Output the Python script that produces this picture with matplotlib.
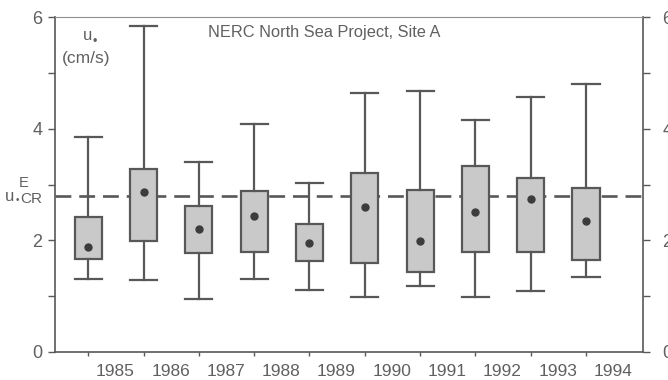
import matplotlib
matplotlib.use('Agg')
import matplotlib.pyplot as plt
import matplotlib.transforms as mtransforms

plt.rcParams['font.family'] = ['Liberation Sans', 'DejaVu Sans']

# u* statistics per year (cm/s)
years = ['1985', '1986', '1987', '1988', '1989', '1990', '1991', '1992', '1993', '1994']
whisker_low = [1.31, 1.29, 0.95, 1.31, 1.11, 0.99, 1.19, 0.99, 1.09, 1.34]
box_low = [1.66, 1.99, 1.77, 1.79, 1.63, 1.59, 1.43, 1.79, 1.79, 1.64]
box_high = [2.42, 3.27, 2.62, 2.89, 2.29, 3.21, 2.91, 3.34, 3.12, 2.94]
whisker_high = [3.85, 5.83, 3.40, 4.08, 3.03, 4.64, 4.68, 4.16, 4.57, 4.80]
means = [1.88, 2.87, 2.20, 2.44, 1.96, 2.59, 1.99, 2.50, 2.74, 2.35]
u_cr = 2.80

line_c = '#585858'
text_c = '#606060'

fig = plt.figure(figsize=(6.68, 3.8), dpi=100)
ax = fig.add_axes([55 / 668, 28 / 380, 588 / 668, 335 / 380])

stats = []
for i in range(len(years)):
    stats.append({'whislo': whisker_low[i], 'q1': box_low[i], 'med': means[i],
                  'q3': box_high[i], 'whishi': whisker_high[i], 'mean': means[i]})

pos = list(range(len(years)))
ax.bxp(stats, positions=pos, widths=0.49, capwidths=0.49, patch_artist=True,
       showmeans=True, showfliers=False,
       boxprops=dict(facecolor='#c9c9c9', edgecolor=line_c, linewidth=1.6),
       whiskerprops=dict(color=line_c, linewidth=1.6),
       capprops=dict(color=line_c, linewidth=1.6),
       medianprops=dict(linewidth=0),
       meanprops=dict(marker='o', markersize=5, markerfacecolor='#3c3c3c',
                      markeredgecolor='#3c3c3c'))

ax.axhline(u_cr, color=line_c, linewidth=1.9, dashes=(6, 3), zorder=1)

ax.set_xlim(-0.6, 10.03)
ax.set_ylim(0, 6)
ax.set_yticks([0, 2, 4, 6])
ax.set_yticks([1, 3, 5], minor=True)
ax.set_xticks(pos)
ax.set_xticklabels(years)
ax.tick_params(axis='y', which='both', direction='out', length=5, width=1,
               color=line_c, labelsize=13, labelcolor=text_c, pad=4)
ax.tick_params(axis='x', direction='out', length=3, width=1, color=line_c,
               labelsize=12.5, labelcolor=text_c, pad=6)

# year labels sit to the right of their tick
shift = mtransforms.ScaledTranslation(0.27, 0, fig.dpi_scale_trans)
for lab in ax.get_xticklabels():
    lab.set_transform(lab.get_transform() + shift)

for side in ['left', 'right', 'bottom']:
    ax.spines[side].set_color(line_c)
    ax.spines[side].set_linewidth(1.2)
ax.spines['top'].set_color('#909090')
ax.spines['top'].set_linewidth(0.8)

ax2 = ax.twinx()
ax2.set_ylim(0, 6)
ax2.set_yticks([0, 2, 4, 6])
ax2.set_yticks([1, 3, 5], minor=True)
ax2.tick_params(axis='y', which='both', direction='out', length=5, width=1,
                color=line_c, labelsize=13, labelcolor=text_c, pad=9)
for side in ['left', 'right', 'bottom', 'top']:
    ax2.spines[side].set_visible(False)

ax.text(0.457, 0.955, 'NERC North Sea Project, Site A', transform=ax.transAxes,
        fontsize=11.8, color=text_c, ha='center', va='center')

# u* (cm/s) axis label inside the plot
ax.text(0.056, 0.945, 'u', transform=ax.transAxes, fontsize=12, color=text_c,
        ha='center', va='center')
ax.text(0.067, 0.925, '•', transform=ax.transAxes, fontsize=9, color=text_c,
        ha='center', va='center')
ax.text(0.053, 0.875, '(cm/s)', transform=ax.transAxes, fontsize=12.5,
        color=text_c, ha='center', va='center')

# critical threshold label on the left margin
fig.text(10 / 668, 1 - 197 / 380, 'u', fontsize=12, color=text_c,
         ha='center', va='center')
fig.text(17.5 / 668, 1 - 200 / 380, '•', fontsize=7, color=text_c,
         ha='center', va='center')
fig.text(20.5 / 668, 1 - 199 / 380, 'CR', fontsize=11, color=text_c,
         ha='left', va='center')
fig.text(24 / 668, 1 - 183 / 380, 'E', fontsize=10.5, color=text_c,
         ha='center', va='center')

fig.savefig('out.png', dpi=100)
